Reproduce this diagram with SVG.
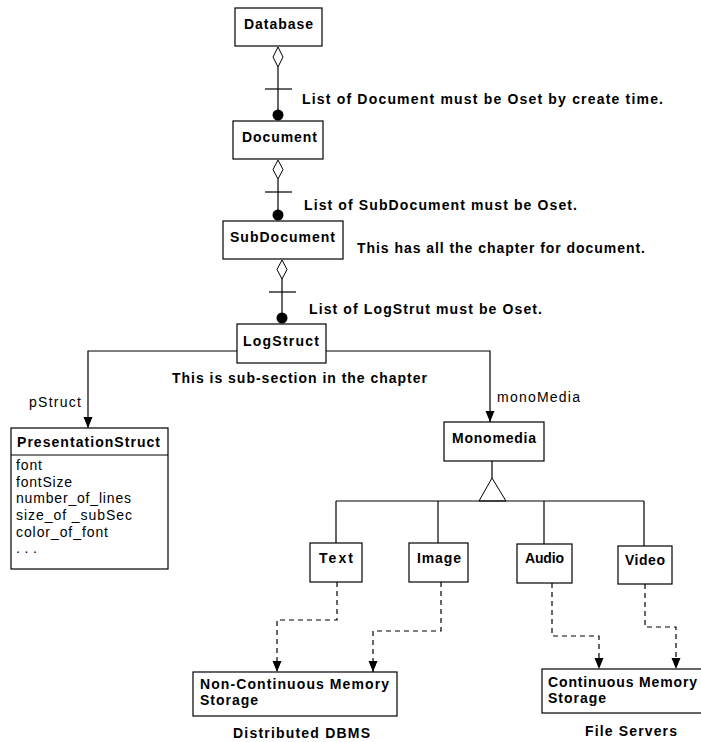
<svg xmlns="http://www.w3.org/2000/svg" width="701" height="742" viewBox="0 0 701 742">
  <style>
    .box { fill: #fff; stroke: #000; stroke-width: 1.2; }
    .ln { fill: none; stroke: #000; stroke-width: 1.2; }
    .dash { fill: none; stroke: #000; stroke-width: 1.2; stroke-dasharray: 5 4; }
    .hollow { fill: #fff; stroke: #000; stroke-width: 1; }
    .dot { fill: #000; }
    .b { font-family: "Liberation Sans", Arial, sans-serif; font-weight: bold; font-size: 14px; fill: #000; }
    .r { font-family: "Liberation Sans", Arial, sans-serif; font-size: 14px; fill: #000; }
  </style>
  <defs>
    <marker id="arrow" markerUnits="userSpaceOnUse" markerWidth="12" markerHeight="10" refX="11" refY="4.5" orient="auto">
      <path d="M0,0 L11,4.5 L0,9 z" fill="#000"/>
    </marker>
  </defs>

  <rect width="701" height="742" fill="#fff"/>

  <!-- connectors -->
  <g id="connectors">
    <!-- Database to Document (ordered aggregation) -->
    <line class="ln" x1="278" y1="67" x2="278" y2="115"/>
    <polygon class="hollow" points="278,47 283,57 278,67 273,57"/>
    <line class="ln" x1="265" y1="89" x2="292" y2="89"/>
    <circle class="dot" cx="278" cy="115" r="5.5"/>

    <!-- Document to SubDocument -->
    <line class="ln" x1="278" y1="179" x2="278" y2="215"/>
    <polygon class="hollow" points="278,160 283,169.5 278,179 273,169.5"/>
    <line class="ln" x1="265" y1="192" x2="292" y2="192"/>
    <circle class="dot" cx="278" cy="215" r="5.5"/>

    <!-- SubDocument to LogStruct -->
    <line class="ln" x1="282" y1="279" x2="282" y2="318"/>
    <polygon class="hollow" points="282,260 287,269.5 282,279 277,269.5"/>
    <line class="ln" x1="269" y1="292" x2="296" y2="292"/>
    <circle class="dot" cx="282" cy="318" r="5.5"/>

    <!-- LogStruct associations -->
    <polyline class="ln" points="237,351 88,351 88,428" marker-end="url(#arrow)"/>
    <polyline class="ln" points="326,351 490,351 490,422" marker-end="url(#arrow)"/>

    <!-- Monomedia generalisation -->
    <line class="ln" x1="492" y1="461" x2="492" y2="478"/>
    <polygon class="hollow" points="492,478 506,501 479,501"/>
    <line class="ln" x1="336" y1="501" x2="644" y2="501"/>
    <line class="ln" x1="336" y1="501" x2="336" y2="543"/>
    <line class="ln" x1="438" y1="501" x2="438" y2="543"/>
    <line class="ln" x1="544" y1="501" x2="544" y2="544"/>
    <line class="ln" x1="644" y1="501" x2="644" y2="546"/>

    <!-- storage dependencies -->
    <polyline class="dash" points="337,582 337,620 277,620 277,672" marker-end="url(#arrow)"/>
    <polyline class="dash" points="441,582 441,631 373,631 373,672" marker-end="url(#arrow)"/>
    <polyline class="dash" points="552,583 552,636 599,636 599,669" marker-end="url(#arrow)"/>
    <polyline class="dash" points="645,584 645,627 676,627 676,669" marker-end="url(#arrow)"/>
  </g>

  <!-- connector labels and notes -->
  <g id="labels">
    <text class="b" x="302" y="104" textLength="361" lengthAdjust="spacing">List of Document must be Oset by create time.</text>
    <text class="b" x="304" y="210" textLength="273" lengthAdjust="spacing">List of SubDocument must be Oset.</text>
    <text class="b" x="357" y="253" textLength="288" lengthAdjust="spacing">This has all the chapter for document.</text>
    <text class="b" x="309" y="314" textLength="233" lengthAdjust="spacing">List of LogStrut must be Oset.</text>
    <text class="b" x="172" y="383" textLength="255" lengthAdjust="spacing">This is sub-section in the chapter</text>
    <text class="r" x="29" y="407" textLength="52" lengthAdjust="spacing">pStruct</text>
    <text class="r" x="497" y="402" textLength="83" lengthAdjust="spacing">monoMedia</text>
    <text class="b" x="233" y="738" textLength="137" lengthAdjust="spacing">Distributed DBMS</text>
    <text class="b" x="585" y="736" textLength="92" lengthAdjust="spacing">File Servers</text>
  </g>

  <g id="database">
    <rect class="box" x="235" y="8" width="87" height="38"/>
    <text class="b" x="244" y="29" textLength="69" lengthAdjust="spacing">Database</text>
  </g>

  <g id="document">
    <rect class="box" x="233" y="121" width="90" height="38"/>
    <text class="b" x="242" y="142" textLength="75" lengthAdjust="spacing">Document</text>
  </g>

  <g id="subdocument">
    <rect class="box" x="223" y="221" width="120" height="38"/>
    <text class="b" x="230" y="242" textLength="105" lengthAdjust="spacing">SubDocument</text>
  </g>

  <g id="logstruct">
    <rect class="box" x="237" y="324" width="89" height="39"/>
    <text class="b" x="243" y="346" textLength="76" lengthAdjust="spacing">LogStruct</text>
  </g>

  <g id="presentationstruct">
    <rect class="box" x="11" y="428" width="157" height="141"/>
    <line class="ln" x1="11" y1="455" x2="168" y2="455"/>
    <text class="b" x="17" y="447" textLength="143" lengthAdjust="spacing">PresentationStruct</text>
    <text class="r" x="16" y="470" textLength="26" lengthAdjust="spacing">font</text>
    <text class="r" x="16" y="487" textLength="56" lengthAdjust="spacing">fontSize</text>
    <text class="r" x="16" y="503" textLength="115" lengthAdjust="spacing">number_of_lines</text>
    <text class="r" x="16" y="520" textLength="116" lengthAdjust="spacing">size_of _subSec</text>
    <text class="r" x="16" y="537" textLength="92" lengthAdjust="spacing">color_of_font</text>
    <text class="r" x="16" y="553" textLength="21" lengthAdjust="spacing">. . .</text>
  </g>

  <g id="monomedia">
    <rect class="box" x="444" y="422" width="100" height="39"/>
    <text class="b" x="452" y="443" textLength="84" lengthAdjust="spacing">Monomedia</text>
  </g>

  <g id="text">
    <rect class="box" x="310" y="543" width="52" height="39"/>
    <text class="b" x="319" y="563" textLength="34" lengthAdjust="spacing">Text</text>
  </g>

  <g id="image">
    <rect class="box" x="409" y="543" width="59" height="39"/>
    <text class="b" x="417" y="563" textLength="44" lengthAdjust="spacing">Image</text>
  </g>

  <g id="audio">
    <rect class="box" x="517" y="544" width="55" height="39"/>
    <text class="b" x="525" y="563" textLength="39" lengthAdjust="spacing">Audio</text>
  </g>

  <g id="video">
    <rect class="box" x="618" y="546" width="54" height="38"/>
    <text class="b" x="625" y="565" textLength="40" lengthAdjust="spacing">Video</text>
  </g>

  <g id="noncontinuous-storage">
    <rect class="box" x="193" y="672" width="204" height="44"/>
    <text class="b" x="200" y="689" textLength="189" lengthAdjust="spacing">Non-Continuous Memory</text>
    <text class="b" x="200" y="705" textLength="58" lengthAdjust="spacing">Storage</text>
  </g>

  <g id="continuous-storage">
    <rect class="box" x="542" y="669" width="170" height="44"/>
    <text class="b" x="548" y="687" textLength="149" lengthAdjust="spacing">Continuous Memory</text>
    <text class="b" x="548" y="703" textLength="58" lengthAdjust="spacing">Storage</text>
  </g>
</svg>
